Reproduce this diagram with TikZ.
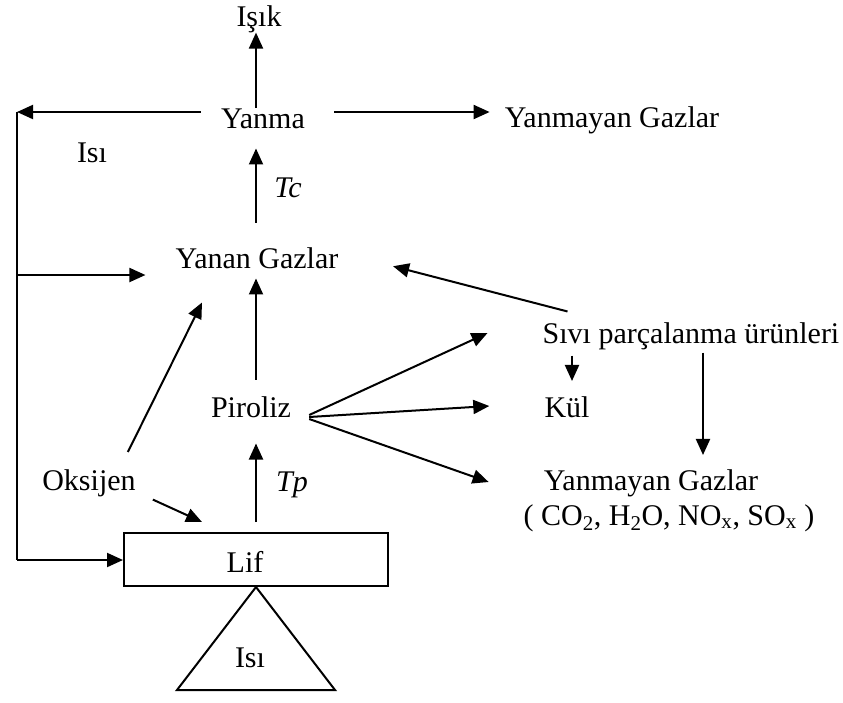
\documentclass[tikz,border=0pt]{standalone}
\usepackage{fontspec}
\setmainfont{Liberation Serif}
\usetikzlibrary{arrows.meta,calc}
\begin{document}
\begin{tikzpicture}[x=1pt,y=-1pt,
  lbl/.style={font=\fontsize{30}{36}\selectfont, inner sep=0pt, anchor=base},
  ital/.style={font=\fontsize{30}{36}\selectfont\itshape},
  ln/.style={line width=2pt},
  arr/.style={line width=2pt, -{Triangle[length=16pt,width=14pt]}}]
\useasboundingbox (0,0) rectangle (843,702);
\fill[white] (0,0) rectangle (843,702);
% axis and corner points
\coordinate (axis) at (256,0);
\coordinate (tl) at (17,112);
\coordinate (ml) at (17,275);
\coordinate (bl) at (17,560);
% nodes
\node[lbl] (isik) at (259,26) {Işık};
\node[lbl] (yanma) at (263,128) {Yanma};
\node[lbl] (yg1) at (612,127) {Yanmayan Gazlar};
\node[lbl] (isi1) at (92,162) {Isı};
\node[lbl,ital] (tc) at (288,197) {Tc};
\node[lbl] (yanan) at (257,268) {Yanan Gazlar};
\node[lbl] (piroliz) at (251,417) {Piroliz};
\node[lbl] (oksijen) at (89,490) {Oksijen};
\node[lbl,ital] (tp) at (292,491) {Tp};
\node[draw, ln, minimum width=264pt, minimum height=53pt, inner sep=0pt] (lif) at (256,559.5) {};
\node[lbl] (liflbl) at (245,572) {Lif};
\draw[ln, line join=miter] (lif.south) -- (177,690) -- (335,690) -- cycle;
\node[lbl] (isi2) at (250,667) {Isı};
\node[lbl] (sivi) at (691,343) {Sıvı parçalanma ürünleri};
\node[lbl] (kul) at (567,417) {Kül};
\node[lbl] (yg2) at (651,490) {Yanmayan Gazlar};
\node[lbl] (formula) at (669,525) {( CO\textsubscript{2}, H\textsubscript{2}O, NO\textsubscript{x}, SO\textsubscript{x} )};
% connectors
\draw[arr] (yanma.north -| axis) -- (isik.south -| axis);
\draw[arr] ([xshift=-20pt]yanma.west |- tl) -- (tl);
\draw[arr] ([xshift=29pt]yanma.east |- tl) -- ([xshift=-15pt]yg1.west |- tl);
\draw[arr, shorten <=24pt, shorten >=20pt] (yanan.north -| axis) -- (yanma.south -| axis);
\draw[ln] (tl) -- (bl);
\draw[arr] (ml) -- ([xshift=-30pt]yanan.west |- ml);
\draw[arr] (bl) -- (lif.west |- bl);
\draw[arr, shorten <=16pt, shorten >=10pt] (piroliz.north -| axis) -- (yanan.south -| axis);
\draw[arr, shorten <=10pt, shorten >=26pt] (lif.north -| axis) -- (piroliz.south -| axis);
\draw[arr] ([shift={(-8pt,17pt)}]oksijen.north east) -- ([shift={(-55pt,-34pt)}]yanan.south);
\draw[arr] ([shift={(17pt,-3pt)}]oksijen.south east) -- ([shift={(-54pt,10pt)}]lif.north);
\coordinate (pv) at ([xshift=18pt]piroliz.base east);
\draw[arr] ([yshift=2pt]pv) -- ([shift={(-55pt,10pt)}]sivi.base west);
\draw[arr] (pv) -- ([shift={(-55pt,11pt)}]kul.base west);
\draw[arr] ([yshift=-2pt]pv) -- ([shift={(-55pt,8pt)}]yg2.base west);
\draw[arr] ([shift={(25pt,10.5pt)}]sivi.north west) -- ([shift={(54.5pt,-8.5pt)}]yanan.east);
\draw[arr, shorten <=6pt, shorten >=15pt] ([xshift=5pt]kul.north |- sivi.south) -- ([xshift=5pt]kul.north);
\draw[arr, shorten <=3pt, shorten >=14pt] ([xshift=52pt]yg2.north |- sivi.south) -- ([xshift=52pt]yg2.north);
\end{tikzpicture}
\end{document}
